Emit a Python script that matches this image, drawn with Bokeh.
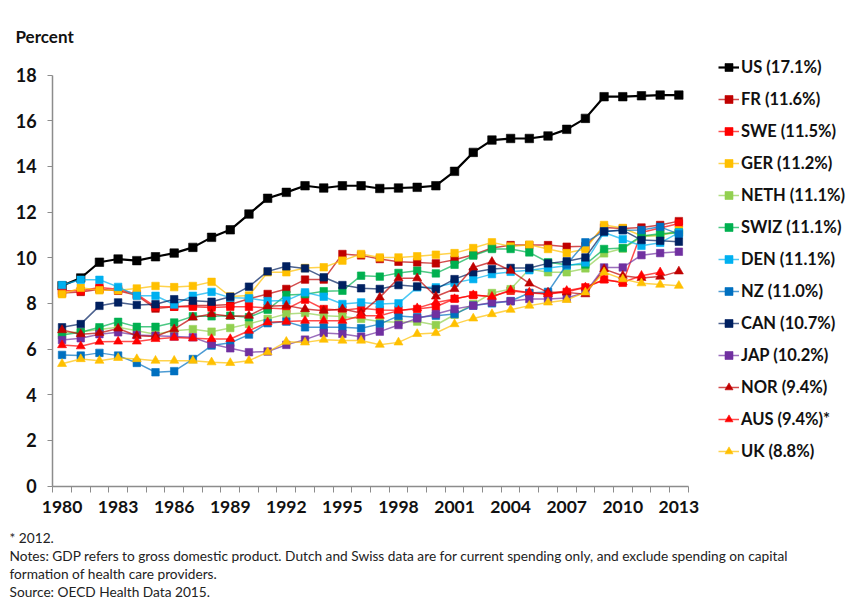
import math
from bokeh.plotting import figure
from bokeh.models import (Range1d, FixedTicker, Legend, LegendItem, Label)
from bokeh.embed import file_html
from bokeh.resources import INLINE

years = list(range(1980, 2014))
NA = float("nan")

US   = [8.77, 9.11, 9.80, 9.94, 9.87, 10.04, 10.20, 10.45, 10.89, 11.22, 11.91, 12.60, 12.86, 13.15, 13.05, 13.15, 13.15, 13.03, 13.05, 13.08, 13.15, 13.78, 14.61, 15.15, 15.22, 15.22, 15.33, 15.62, 16.10, 17.05, 17.05, 17.09, 17.12, 17.12]
FR   = [8.45, 8.50, 8.62, 8.55, 8.35, 7.77, 7.85, 7.90, 7.90, 7.95, 8.20, 8.41, 8.63, 9.04, 9.04, 10.16, 10.10, 9.94, 9.82, 9.79, 9.75, 9.91, 10.13, 10.42, 10.55, 10.55, 10.55, 10.48, 10.50, 11.32, 11.28, 11.32, 11.43, 11.60]
SWE  = [8.55, 8.55, 8.69, 8.62, 8.40, 7.85, 7.85, 7.85, 7.82, 7.85, 7.85, 7.80, 7.75, 8.16, 7.75, 7.70, 7.78, 7.71, 7.70, 7.75, 7.85, 8.20, 8.36, 8.30, 8.55, 8.45, 8.41, 8.50, 8.70, 9.05, 8.90, 11.10, 11.30, 11.50]
GER  = [8.40, 8.68, 8.57, 8.57, 8.65, 8.76, 8.71, 8.76, 8.94, 8.30, 8.34, 9.36, 9.36, 9.55, 9.58, 9.87, 10.16, 10.01, 10.01, 10.06, 10.13, 10.20, 10.42, 10.67, 10.49, 10.57, 10.38, 10.20, 10.38, 11.43, 11.30, 10.96, 10.96, 11.20]
NETH = [6.70, 6.75, 6.85, 6.95, 6.80, 6.65, 6.80, 6.87, 6.76, 6.92, 7.10, 7.32, 7.53, 7.58, 7.46, 7.42, 7.32, 7.20, 7.17, 7.20, 7.05, 7.50, 7.97, 8.45, 8.62, 9.50, 9.36, 9.36, 9.53, 10.19, 10.40, 10.90, 11.00, 11.10]
SWIZ = [6.61, 6.73, 6.95, 7.19, 6.97, 6.97, 7.16, 7.43, 7.43, 7.46, 7.39, 7.72, 8.37, 8.40, 8.53, 8.55, 9.21, 9.17, 9.33, 9.43, 9.31, 9.69, 10.09, 10.38, 10.38, 10.23, 9.80, 9.69, 9.70, 10.38, 10.42, 10.95, 11.05, 11.10]
DEN  = [8.80, 9.03, 9.03, 8.72, 8.33, 8.33, 7.95, 8.33, 8.50, 8.25, 8.22, 8.10, 8.12, 8.48, 8.29, 7.97, 8.04, 7.97, 8.00, 8.70, 8.70, 8.90, 9.06, 9.28, 9.38, 9.45, 9.55, 9.65, 9.79, 11.10, 10.81, 10.52, 10.65, 11.10]
NZ   = [5.74, 5.71, 5.83, 5.71, 5.39, 4.98, 5.03, 5.56, 6.15, 6.27, 6.63, 7.13, 7.20, 6.95, 6.95, 6.95, 6.91, 7.09, 7.45, 7.39, 7.46, 7.53, 7.90, 8.00, 8.10, 8.45, 8.50, 9.70, 10.67, 11.15, 11.20, 11.21, 11.35, 11.03]
CAN  = [6.95, 7.09, 7.89, 8.04, 7.93, 7.96, 8.18, 8.11, 8.07, 8.29, 8.73, 9.40, 9.62, 9.53, 9.14, 8.80, 8.66, 8.63, 8.80, 8.74, 8.62, 9.06, 9.36, 9.50, 9.55, 9.55, 9.75, 9.84, 10.01, 11.15, 11.21, 10.77, 10.74, 10.70]
JAP  = [6.39, 6.47, 6.65, 6.73, 6.61, 6.58, 6.55, 6.51, 6.22, 6.03, 5.86, 5.89, 6.18, 6.41, 6.70, 6.66, 6.54, 6.76, 7.05, 7.34, 7.53, 7.75, 7.90, 8.04, 8.09, 8.19, 8.19, 8.23, 8.48, 9.57, 9.57, 10.11, 10.20, 10.26]
NOR  = [6.83, 6.65, 6.70, 6.90, 6.58, 6.55, 6.87, 7.38, 7.53, 7.43, 7.46, 7.87, 7.90, 7.75, 7.68, 7.75, 7.58, 8.26, 9.10, 9.10, 8.30, 8.63, 9.57, 9.82, 9.43, 8.87, 8.48, 8.48, 8.40, 9.50, 9.21, 9.11, 9.17, 9.40]
AUS  = [6.17, 6.12, 6.32, 6.33, 6.33, 6.44, 6.50, 6.47, 6.44, 6.44, 6.80, 7.17, 7.20, 7.24, 7.24, 7.24, 7.46, 7.46, 7.68, 7.79, 8.04, 8.19, 8.36, 8.29, 8.58, 8.48, 8.41, 8.55, 8.70, 9.02, 8.92, 9.21, 9.36, NA]
UK   = [5.35, 5.56, 5.49, 5.61, 5.56, 5.49, 5.49, 5.49, 5.42, 5.39, 5.49, 5.86, 6.32, 6.29, 6.41, 6.37, 6.37, 6.19, 6.29, 6.66, 6.70, 7.09, 7.34, 7.53, 7.72, 7.90, 8.04, 8.15, 8.48, 9.36, 9.06, 8.88, 8.82, 8.77]

labels = ["US (17.1%)", "FR (11.6%)", "SWE (11.5%)", "GER (11.2%)", "NETH (11.1%)",
          "SWIZ (11.1%)", "DEN (11.1%)", "NZ (11.0%)", "CAN (10.7%)", "JAP (10.2%)",
          "NOR (9.4%)", "AUS (9.4%)*", "UK (8.8%)"]
series = [US, FR, SWE, GER, NETH, SWIZ, DEN, NZ, CAN, JAP, NOR, AUS, UK]
colors = ["#000000", "#C00000", "#FF0000", "#FFC000", "#92D050", "#00B050", "#00B0F0",
          "#0070C0", "#002060", "#7030A0", "#C00000", "#FF0000", "#FFC000"]
markers = ["square"] * 10 + ["triangle"] * 3

x_ticks = list(range(1980, 2014, 3))
y_ticks = list(range(0, 19, 2))

# canvas / frame geometry (frame covers the whole canvas; axes are placed at fixed locations)
W, H = 858, 600
X0PX = 52.2                # pixel position of 1979.5
PPX = 635.5 / 34.0         # pixels per year
Y0PX = 485.5               # pixel position of 0 %
PPY = 411.0 / 18.0         # pixels per percent

def px2x(ix):
    return 1979.5 + (ix - X0PX) / PPX

def px2y(iy):
    return (Y0PX - iy) / PPY

p = figure(width=W, height=H, output_backend="svg", toolbar_location=None,
           x_range=Range1d(px2x(0), px2x(W)), y_range=Range1d(px2y(H), px2y(0)),
           min_border_left=0, min_border_right=0, min_border_top=0, min_border_bottom=0)
p.outline_line_color = None
p.xgrid.visible = False
p.ygrid.visible = False

FONT = "Lato"
AX = "#8c8c8c"

xa = p.xaxis[0]
xa.fixed_location = 0
xa.bounds = (1979.5, 2013.5)
xa.ticker = FixedTicker(ticks=x_ticks, minor_ticks=[1979.5 + i for i in range(35)])
xa.major_tick_line_color = None
xa.minor_tick_in = 0
xa.minor_tick_out = 6
xa.minor_tick_line_color = AX
xa.minor_tick_line_width = 1
xa.axis_line_color = AX
xa.axis_line_width = 1.5
xa.major_label_text_font = FONT
xa.major_label_text_font_style = "bold"
xa.major_label_text_font_size = "17.5px"
xa.major_label_text_color = "#111111"
xa.major_label_standoff = 9

ya = p.yaxis[0]
ya.fixed_location = 1979.5
ya.bounds = (0, 18)
ya.ticker = FixedTicker(ticks=y_ticks)
ya.minor_tick_line_color = None
ya.major_tick_in = 0
ya.major_tick_out = 5
ya.major_tick_line_color = AX
ya.axis_line_color = AX
ya.axis_line_width = 1.5
ya.major_label_text_font = FONT
ya.major_label_text_font_style = "bold"
ya.major_label_text_font_size = "18px"
ya.major_label_text_color = "#111111"
ya.major_label_standoff = 11

items = []
for lab, vals, col, mk in zip(labels, series, colors, markers):
    is_us = lab.startswith("US")
    lr = p.line(years, vals, line_color=col, line_width=2.2 if is_us else 1.5,
                line_alpha=1.0 if is_us else 0.7)
    size = 8.5 if is_us else (9 if mk == "triangle" else 7.5)
    sr = p.scatter(years, vals, marker=mk, size=size, fill_color=col,
                   line_color=col, line_alpha=0.6)
    items.append(LegendItem(label=lab, renderers=[lr, sr]))

n = len(items)
leg_h = n * 20 + (n - 1) * 12
legend = Legend(items=items, location=(718, H - (57 + leg_h)), border_line_color=None,
                background_fill_alpha=0, padding=0, margin=0, spacing=12,
                glyph_width=21, glyph_height=20, label_height=20, label_standoff=2,
                label_text_font=FONT, label_text_font_style="bold",
                label_text_font_size="16.5px", label_text_color="#111111")
p.add_layout(legend)

p.add_layout(Label(x=px2x(15), y=px2y(36), text="Percent", text_font=FONT,
                   text_font_style="bold", text_font_size="17px",
                   text_baseline="middle", text_color="#111111"))

notes = ["* 2012.",
         "Notes: GDP refers to gross domestic product. Dutch and Swiss data are for current spending only, and exclude spending on capital",
         "formation of health care providers.",
         "Source: OECD Health Data 2015."]
note_y = [537, 555, 573, 591]
for t, yy in zip(notes, note_y):
    p.add_layout(Label(x=px2x(9), y=px2y(yy), text=t, text_font=FONT,
                       text_font_size="13.7px", text_baseline="middle",
                       text_color="#222222"))

open("out.html", "w").write(file_html(p, INLINE))
